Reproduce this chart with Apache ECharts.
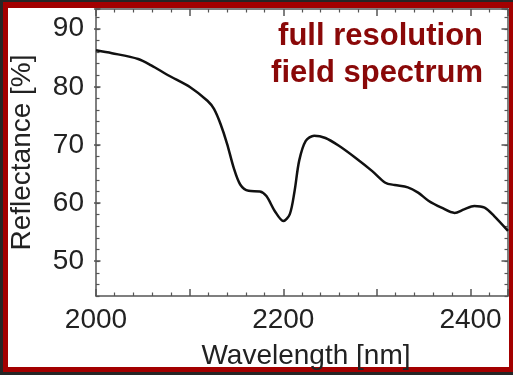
<!DOCTYPE html>
<html>
<head>
<meta charset="utf-8">
<script src="https://cdn.jsdelivr.net/npm/echarts@6/dist/echarts.min.js"></script>
<style>
html,body{margin:0;padding:0;background:#262626;}
#outer{position:absolute;left:0;top:0;width:513px;height:375px;background:#262626;}
#red{position:absolute;left:3px;top:2px;width:510px;height:370px;background:#a30000;}
#white{position:absolute;left:8px;top:8px;width:501px;height:359px;background:#ffffff;}
#c{position:absolute;left:0;top:0;width:513px;height:375px;}
</style>
</head>
<body>
<div id="outer"></div><div id="red"></div><div id="white"></div>
<div id="c"></div>
<script>
// Data
var wavelengths = [2000, 2017, 2045, 2059, 2077, 2101, 2119, 2126, 2133, 2140, 2147, 2154, 2163, 2175, 2182, 2191, 2200, 2207, 2212, 2217, 2224, 2233, 2245, 2259, 2277, 2295, 2309, 2319, 2333, 2344, 2355, 2369, 2383, 2393, 2404, 2415, 2425, 2440];
var reflectance = [86.3, 85.8, 84.8, 83.7, 82.0, 79.9, 77.6, 76.2, 73.6, 70.2, 66.1, 63.2, 62.1, 62.0, 61.2, 58.6, 56.9, 58.1, 62.0, 67.3, 70.7, 71.6, 71.2, 69.9, 67.8, 65.5, 63.5, 63.1, 62.7, 61.8, 60.4, 59.2, 58.3, 58.9, 59.5, 59.2, 57.8, 55.2];
var xTickLabels = [2000, 2200, 2400];
var yTickLabels = [50, 60, 70, 80, 90];
var annotation = ['full resolution', 'field spectrum'];
var xName = 'Wavelength [nm]';
var yName = 'Reflectance [%]';

var FONT = 'Liberation Sans, Arial, Helvetica, sans-serif';
var axisColor = '#555';
var points = wavelengths.map(function (w, i) { return [w, reflectance[i]]; });

var Y_MIN = 44, Y_MAX = 93.4;
var GRID_TOP = 9, GRID_BOTTOM_PX = 296, H = 375;
var pxPerUnit = (GRID_BOTTOM_PX - GRID_TOP) / (Y_MAX - Y_MIN);
var y50px = GRID_BOTTOM_PX - (50 - Y_MIN) * pxPerUnit;

function xAxisCfg(pos, showLabels) {
  return {
    type: 'value', gridIndex: 0, position: pos, min: 2000, max: 2440, interval: 100,
    axisLine: { show: true, onZero: false, lineStyle: { color: axisColor, width: 1.5 } },
    axisTick: { show: true, inside: true, length: 7, lineStyle: { color: axisColor, width: 1.5 } },
    minorTick: { show: true, splitNumber: 5, length: 3.5, lineStyle: { color: axisColor, width: 1.2 } },
    splitLine: { show: false }, minorSplitLine: { show: false },
    axisLabel: {
      show: showLabels, margin: 10, fontSize: 28, fontFamily: FONT, color: '#222',
      formatter: function (v) { return xTickLabels.indexOf(v) >= 0 ? String(v) : ''; }
    },
    name: showLabels ? xName : '', nameLocation: 'middle', nameGap: 46,
    nameTextStyle: { fontSize: 28, fontFamily: FONT, color: '#222', padding: [0, 0, 0, 8] }
  };
}
// minor (short) ticks every 2 units + labels
function yMinorCfg(pos, showLabels) {
  return {
    type: 'value', gridIndex: 0, position: pos, min: Y_MIN, max: Y_MAX, interval: 2,
    axisLine: { show: true, onZero: false, lineStyle: { color: axisColor, width: 1.5 } },
    axisTick: { show: true, inside: true, length: 3.5, lineStyle: { color: axisColor, width: 1.2 } },
    splitLine: { show: false },
    axisLabel: {
      show: showLabels, margin: 12, fontSize: 28, fontFamily: FONT, color: '#222',
      formatter: function (v) { var r = Math.round(v * 1000) / 1000; return yTickLabels.indexOf(r) >= 0 ? String(r) : ''; }
    },
    name: showLabels ? yName : '', nameLocation: 'middle', nameGap: 60, nameRotate: 90,
    nameTextStyle: { fontSize: 28, fontFamily: FONT, color: '#222' }
  };
}
// major (long) ticks every 10 units, on an overlay grid starting at 50
function yMajorCfg(pos) {
  return {
    type: 'value', gridIndex: 1, position: pos, min: 50, max: Y_MAX, interval: 10,
    axisLine: { show: false },
    axisTick: { show: true, inside: true, length: 6.5, lineStyle: { color: axisColor, width: 1.5 } },
    splitLine: { show: false }, axisLabel: { show: false }
  };
}

var chart = echarts.init(document.getElementById('c'), null, { renderer: 'canvas' });
chart.setOption({
  backgroundColor: 'transparent',
  animation: false,
  grid: [
    { left: 94, right: 5, top: GRID_TOP, bottom: H - GRID_BOTTOM_PX, containLabel: false },
    { left: 94, right: 5, top: GRID_TOP, bottom: H - y50px, containLabel: false }
  ],
  xAxis: [xAxisCfg('bottom', true), xAxisCfg('top', false),
    { type: 'value', gridIndex: 1, min: 2000, max: 2440, show: false }],
  yAxis: [yMinorCfg('left', true), yMinorCfg('right', false), yMajorCfg('left'), yMajorCfg('right')],
  series: [{
    type: 'line', xAxisIndex: 0, yAxisIndex: 0,
    data: points, showSymbol: false, smooth: 0.3,
    lineStyle: { color: '#111', width: 2.5 }
  }],
  graphic: [{
    type: 'text', x: 483, y: 18, z: 10,
    style: {
      text: annotation.join('\n'), align: 'right', verticalAlign: 'top',
      fontSize: 31, fontWeight: 'bold', fontFamily: FONT, lineHeight: 37, fill: '#8a0808'
    }
  }]
});
</script>
</body>
</html>
